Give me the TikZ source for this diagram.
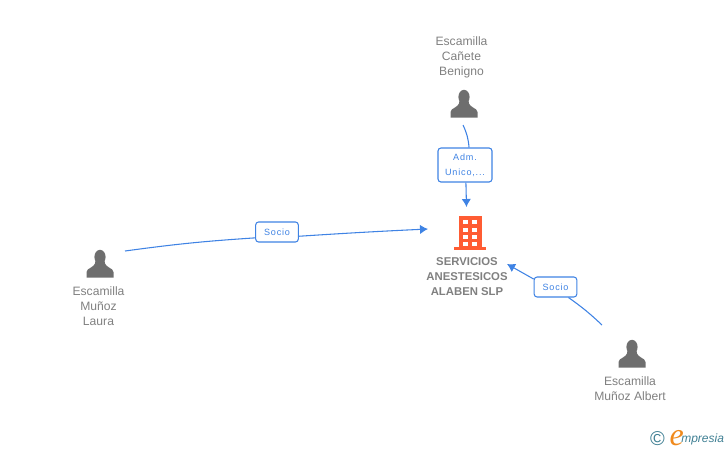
\documentclass[tikz,border=0pt]{standalone}
\usepackage{fontspec}
\setmainfont{Liberation Sans}
\newfontfamily\logofont{Liberation Serif}
\usetikzlibrary{positioning, arrows.meta}

\definecolor{linkblue}{HTML}{3F83E4}
\definecolor{persongray}{HTML}{6E6E6E}
\definecolor{textgray}{HTML}{808080}
\definecolor{buildorange}{HTML}{FF5C33}
\definecolor{logoteal}{HTML}{3F7F93}
\definecolor{logoorange}{HTML}{F08A1D}

\tikzset{
  person/.pic={
    \fill[persongray] (0,-7) ellipse (5.6 and 7.2);
    \fill[persongray] (-13.5,13.5) -- (-13.5,8) .. controls (-13.5,3.5) and (-5,4.5) .. (-4.5,-3)
      -- (4.5,-3) .. controls (5,4.5) and (13.5,3.5) .. (13.5,8) -- (13.5,13.5) -- cycle;
  },
  building/.pic={
    \fill[buildorange] (-11,-17) rectangle (11.5,14);
    \fill[buildorange] (-16,14) rectangle (16,17);
    \foreach \row in {-13,-5.5,2,9} {
      \fill[white] (-6.7,\row) rectangle (-1.7,\row+4);
      \fill[white] (2.3,\row) rectangle (7.3,\row+4);
    }
  },
  pname/.style={font=\fontsize{9.1}{11.25}\selectfont, text=textgray, align=center, inner sep=0pt},
  firmname/.style={pname, font=\fontsize{8.5}{11.25}\selectfont\bfseries},
  tag/.style={draw=linkblue, fill=white, rounded corners=2.2pt, line width=0.8pt, text=linkblue,
    font=\fontsize{6.8}{11.25}\selectfont\addfontfeature{LetterSpace=9}, align=center, inner sep=0pt},
  link/.style={color=linkblue, line width=0.8pt, >={Latex[length=6pt,width=7pt]}},
}

\begin{document}
\begin{tikzpicture}[x=0.75pt, y=-0.75pt, node distance=5pt]
   \useasboundingbox (0,0) rectangle (728,450);

   % icons
   \pic at (464,104) {person};
   \pic at (100,264) {person};
   \pic at (632,354) {person};
   \pic at (470,233) {building};

   % names
   \node[pname, anchor=south] (nbenigno) at (461.5,78) {Escamilla\\Cañete\\Benigno};
   \node[pname, anchor=north] (nlaura) at (98.5,286) {Escamilla\\Muñoz\\Laura};
   \node[pname, anchor=north] (nalbert) at (630,376) {Escamilla\\Muñoz Albert};
   \node[firmname, anchor=north] (nfirm) at (467,257.5) {SERVICIOS\\ANESTESICOS\\ALABEN SLP};

   % tags
   \node[tag, minimum width=32pt, minimum height=15pt] (tlaura) at (277,232) {Socio};
   \node[tag, minimum width=40.5pt, minimum height=25.5pt] (tbenigno) at (465,165) {Adm.\\Unico,...};
   \node[tag, minimum width=32pt, minimum height=15pt] (talbert) at (555.5,287) {Socio};

   % free ends
   \coordinate (slaura) at (125,251);
   \coordinate (elaura) at (428,229);
   \coordinate (sbenigno) at (463,125);
   \coordinate (ebenigno) at (466.5,207);
   \coordinate (salbert) at (602,325);
   \coordinate (ealbert) at (507,264);

   \path[link, ->]
    (slaura) edge [bend left=2, -] (tlaura.195)
    (tlaura.349) edge [bend left=0.5] (elaura)
    (sbenigno) edge [bend left=10, -] (tbenigno.77)
    (tbenigno.-87) edge (ebenigno)
    (salbert) edge [bend right=4, -] (talbert.321)
    (talbert.160) edge (ealbert);

   % logo
   \node[inner sep=0pt, text=logoteal, font=\fontsize{15}{15}\selectfont] (copyr) at (657.5,438.5) {\char"00A9};
   \node[inner sep=0pt, anchor=base west, text=logoteal, font=\fontsize{9}{9}\selectfont\itshape] (logo) at (681,442) {mpresia};
   \node[inner sep=0pt, anchor=base east, text=logoorange, font=\fontsize{24}{24}\selectfont\logofont\itshape] (logoe) at (684,445) {e};
\end{tikzpicture}
\end{document}
